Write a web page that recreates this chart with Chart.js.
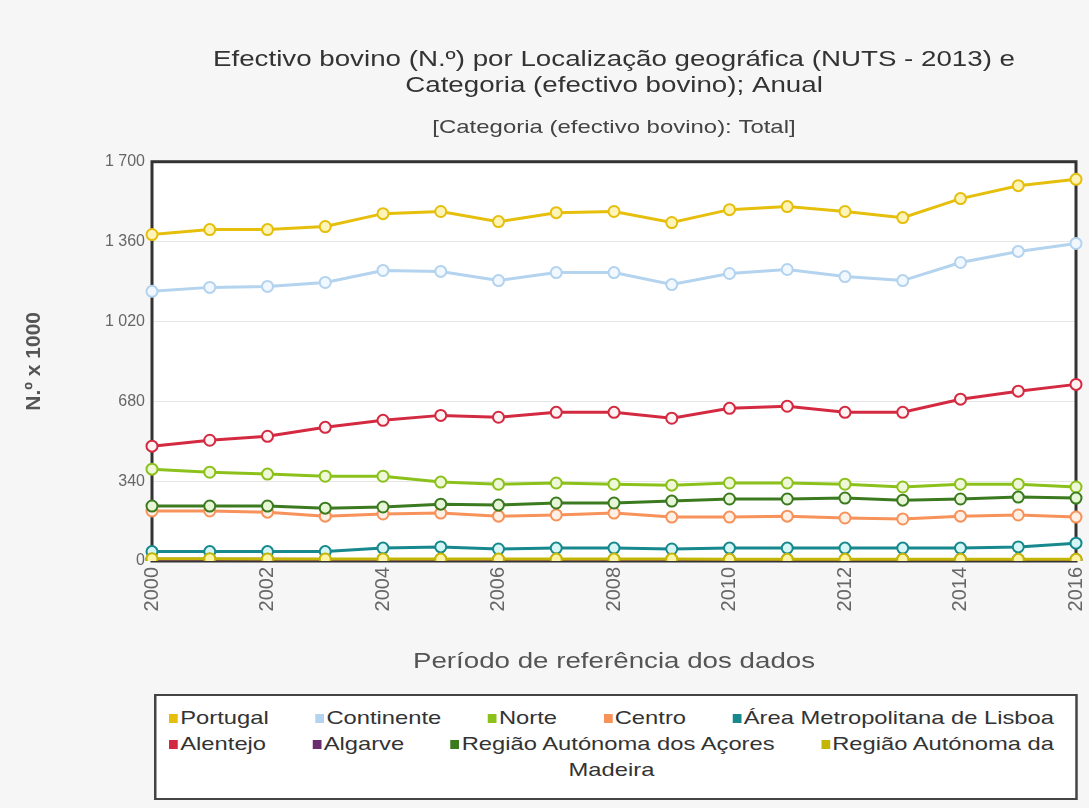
<!DOCTYPE html>
<html lang="pt">
<head>
<meta charset="utf-8">
<title>Efectivo bovino</title>
<script src="https://cdn.jsdelivr.net/npm/chart.js@4.4.1/dist/chart.umd.min.js"></script>
<style>
    body { margin: 0; background: #f6f6f6; font-family: "Liberation Sans", Arial, sans-serif; }
    #wrap { position: relative; width: 1089px; height: 808px; overflow: hidden; }
    #chart { position: absolute; left: 0; top: 0; }
    /* the legend text in the original is drawn wide, so the box is laid out narrow and stretched */
    #legend {
        position: absolute; left: 154px; top: 694px; width: 739px; height: 106px;
        transform: scaleX(1.25); transform-origin: 0 0;
        box-sizing: border-box; border: 2px solid #444; background: #fff;
        padding: 9px 17px 0 10px; color: #333; font-size: 19px;
    }
    .row { display: flex; justify-content: space-between; height: 26px; align-items: center; }
    .row.last { justify-content: center; }
    .item { display: flex; align-items: center; white-space: nowrap; }
    .sq { width: 7px; height: 9px; margin-right: 2px; }
</style>
</head>
<body>
<div id="wrap">
    <canvas id="chart" width="1089" height="690"></canvas>
    <div id="legend"></div>
</div>
<script>
const years = ["2000", "2001", "2002", "2003", "2004", "2005", "2006", "2007", "2008",
    "2009", "2010", "2011", "2012", "2013", "2014", "2015", "2016"];

// N.º x 1000
const portugal  = [1390, 1411, 1411, 1424, 1479, 1488, 1445, 1483, 1488, 1441, 1496, 1509, 1488, 1462, 1543, 1598, 1625];
const continente = [1148, 1165, 1169, 1186, 1237, 1233, 1194, 1228, 1228, 1177, 1224, 1241, 1211, 1194, 1271, 1318, 1352];
const norte     = [391, 378, 370, 361, 361, 336, 327, 332, 327, 323, 332, 332, 327, 315, 327, 327, 315];
const centro    = [213, 213, 208, 191, 200, 204, 191, 196, 204, 187, 187, 191, 183, 179, 191, 196, 187];
const lisboa    = [40, 40, 40, 40, 55, 60, 51, 55, 55, 51, 55, 55, 55, 55, 55, 60, 76];
const alentejo  = [489, 514, 531, 569, 599, 620, 612, 633, 633, 608, 650, 659, 633, 633, 689, 723, 752];
const algarve   = [7, 7, 7, 6, 6, 6, 6, 6, 6, 6, 6, 6, 6, 6, 6, 6, 6];
const acores    = [234, 234, 234, 225, 230, 242, 238, 247, 247, 255, 264, 264, 268, 259, 264, 272, 268];
const madeira   = [10, 10, 9, 9, 9, 8, 8, 8, 8, 8, 7, 7, 7, 7, 7, 7, 7];

const yTicks = [0, 340, 680, 1020, 1360, 1700];

const seriesNames = ["Portugal", "Continente", "Norte", "Centro", "Área Metropolitana de Lisboa",
    "Alentejo", "Algarve", "Região Autónoma dos Açores", "Região Autónoma da Madeira"];
const seriesData = [portugal, continente, norte, centro, lisboa, alentejo, algarve, acores, madeira];
const lineColors = ["#e5bf0c", "#b3d3ee", "#8cc11c", "#f6925a", "#17888d", "#d42a41", "#6b2b6f", "#3c7a20", "#c4b604"];
const fillColors = ["#fff4b8", "#f2f8ff", "#eef8d8", "#fff0e6", "#d6f6f6", "#fff2f2", "#f4e8f4", "#e8f6d8", "#fff3a6"];

const TEXT_STRETCH = 1.26;

const fmt = v => String(v).replace(/\B(?=(\d{3})+(?!\d))/g, " ");

// wrap a draw method so its text comes out horizontally stretched around centreX
function stretchDraw(target, method, centreX) {
    const flag = "_stretched_" + method;
    if (target[flag]) return;
    const orig = target[method];
    target[method] = function (...args) {
        const ctx = this.ctx;
        const cx = centreX(this);
        ctx.save();
        ctx.translate(cx, 0);
        ctx.scale(TEXT_STRETCH, 1);
        ctx.translate(-cx, 0);
        orig.apply(this, args);
        ctx.restore();
    };
    target[flag] = true;
}

const plotFrame = {
    id: "plotFrame",
    afterLayout(chart) {
        const a = chart.chartArea;
        const mid = (a.left + a.right) / 2;
        // titles are centred over the plot, not the whole canvas
        chart.boxes.forEach(b => {
            if (b.options && b.options.text !== undefined && b.position === "top") {
                b.left = a.left; b.right = a.right; b.width = a.right - a.left;
                stretchDraw(b, "draw", () => mid);
            }
        });
        stretchDraw(chart.scales.x, "drawTitle", () => mid);
    },
    beforeDraw(chart) {
        const { ctx, chartArea: a } = chart;
        ctx.save();
        ctx.fillStyle = "#ffffff";
        ctx.fillRect(a.left, a.top, a.right - a.left, a.bottom - a.top);
        ctx.restore();
    },
    beforeDatasetsDraw(chart) {
        const { ctx, chartArea: a } = chart;
        ctx.save();
        ctx.strokeStyle = "#333";
        ctx.lineWidth = 3;
        ctx.strokeRect(a.left, a.top, a.right - a.left, a.bottom - a.top);
        ctx.restore();
    }
};

const datasets = seriesNames.map((name, i) => ({
    label: name,
    data: seriesData[i],
    borderColor: lineColors[i],
    backgroundColor: lineColors[i],
    pointBackgroundColor: fillColors[i],
    pointBorderColor: lineColors[i],
    pointRadius: 5.5,
    pointBorderWidth: 2,
    borderWidth: 3,
    tension: 0,
    order: -i
}));

new Chart(document.getElementById("chart"), {
    type: "line",
    data: { labels: years, datasets: datasets },
    plugins: [plotFrame],
    options: {
        responsive: false,
        animation: false,
        layout: { padding: { left: 0, right: 13, top: 0, bottom: 0 } },
        plugins: {
            legend: { display: false },
            tooltip: { enabled: false },
            title: {
                display: true,
                text: ["Efectivo bovino (N.º) por Localização geográfica (NUTS - 2013) e",
                       "Categoria (efectivo bovino); Anual"],
                color: "#333",
                font: { family: "Liberation Sans", size: 22, weight: "normal", lineHeight: 1.18 },
                padding: { top: 47, bottom: 17 }
            },
            subtitle: {
                display: true,
                text: "[Categoria (efectivo bovino): Total]",
                color: "#444",
                font: { family: "Liberation Sans", size: 19, lineHeight: 1.2 },
                padding: { top: 0, bottom: 23 }
            }
        },
        scales: {
            x: {
                offset: false,
                grid: { display: false, drawTicks: false },
                border: { display: false },
                ticks: {
                    autoSkip: false, minRotation: 90, maxRotation: 90, padding: 6,
                    color: "#666", font: { family: "Liberation Sans", size: 20 },
                    callback: (v, i) => i % 2 === 0 ? years[i] : ""
                },
                title: {
                    display: true, text: "Período de referência dos dados", color: "#555",
                    font: { family: "Liberation Sans", size: 22, lineHeight: 1.1 },
                    padding: { top: 0, bottom: 16 }
                },
                afterFit: s => { s.height = 129; s.paddingLeft = 0; s.paddingRight = 0; }
            },
            y: {
                min: 0, max: 1700,
                afterBuildTicks: s => { s.ticks = yTicks.map(v => ({ value: v })); },
                grid: { color: "#e6e6e6", drawTicks: false },
                border: { display: false },
                ticks: { padding: 7, color: "#666", font: { family: "Liberation Sans", size: 16 }, callback: v => fmt(v) },
                title: {
                    display: true, text: "N.º x 1000", color: "#555",
                    font: { family: "Liberation Sans", size: 21, weight: "bold", lineHeight: 1.0 },
                    padding: { top: 24, bottom: 0 }
                },
                afterFit: s => { s.width = 152; s.paddingTop = 0; s.paddingBottom = 0; }
            }
        }
    }
});

// legend box, two full rows and the wrapped end of the last name
const legendRows = [[0, 1, 2, 3, 4], [5, 6, 7, 8]];
const legend = document.getElementById("legend");
let tail = "";
legendRows.forEach(row => {
    const r = document.createElement("div");
    r.className = "row";
    row.forEach(i => {
        let name = seriesNames[i];
        if (i === 8) { tail = name.slice(name.lastIndexOf(" ") + 1); name = name.slice(0, name.lastIndexOf(" ")); }
        r.innerHTML += `<span class="item"><span class="sq" style="background:${lineColors[i]}"></span>${name}</span>`;
    });
    legend.appendChild(r);
});
const last = document.createElement("div");
last.className = "row last";
last.textContent = tail;
legend.appendChild(last);
</script>
</body>
</html>
